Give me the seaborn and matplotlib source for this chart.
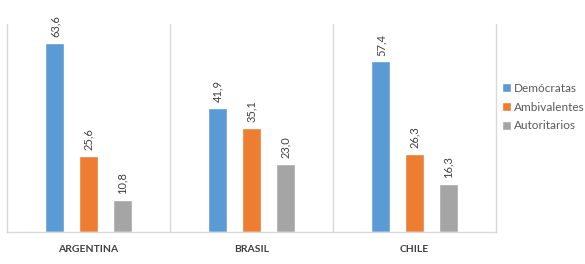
import pandas as pd
import seaborn as sns
import matplotlib.pyplot as plt

paises = ["ARGENTINA", "BRASIL", "CHILE"]
grupos = ["Demócratas", "Ambivalentes", "Autoritarios"]
democratas = [63.6, 41.9, 57.4]
ambivalentes = [25.6, 35.1, 26.3]
autoritarios = [10.8, 23.0, 16.3]
colores = ["#5B9BD5", "#ED7D31", "#A5A5A5"]

df = pd.DataFrame({
    "pais": paises * 3,
    "grupo": [g for g in grupos for _ in paises],
    "valor": democratas + ambivalentes + autoritarios,
})

sns.set_style("white")
plt.rcParams['font.family'] = ['Lato', 'DejaVu Sans']

fig = plt.figure(figsize=(5.85, 2.64), dpi=100)
ax = fig.add_axes([0.012, 0.121, 0.836, 0.788])

sns.barplot(data=df, x="pais", y="valor", hue="grupo", order=paises, hue_order=grupos,
            palette=colores, width=0.62, gap=0.43, saturation=1, ax=ax)

for cont in ax.containers:
    vals = cont.datavalues
    ax.bar_label(cont, labels=[f"{v:.1f}".replace(".", ",") for v in vals],
                 rotation=90, padding=4, fontsize=8, color="#404040")

ax.set_xlim(-0.5, 2.5)
ax.set_ylim(0, 70)
ax.set_yticks([])
ax.set_xlabel("")
ax.set_ylabel("")
ax.tick_params(axis="x", length=0, pad=9)
for lbl in ax.get_xticklabels():
    lbl.set_fontsize(7.5)
    lbl.set_color("#404040")
    lbl.set_fontweight("bold")

for x in [0.5, 1.5]:
    ax.axvline(x, color="#D9D9D9", lw=1)
for side in ["left", "right", "bottom"]:
    ax.spines[side].set_color("#D9D9D9")
    ax.spines[side].set_linewidth(1)
ax.spines["top"].set_visible(False)

leg = ax.legend(loc="center left", bbox_to_anchor=(1.0, 0.6), frameon=False,
                fontsize=8.5, handlelength=0.8, handleheight=0.8, handletextpad=0.2,
                labelspacing=0.65, borderaxespad=0.1)
for t in leg.get_texts():
    t.set_color("#595959")

fig.savefig("out.png", dpi=100)
